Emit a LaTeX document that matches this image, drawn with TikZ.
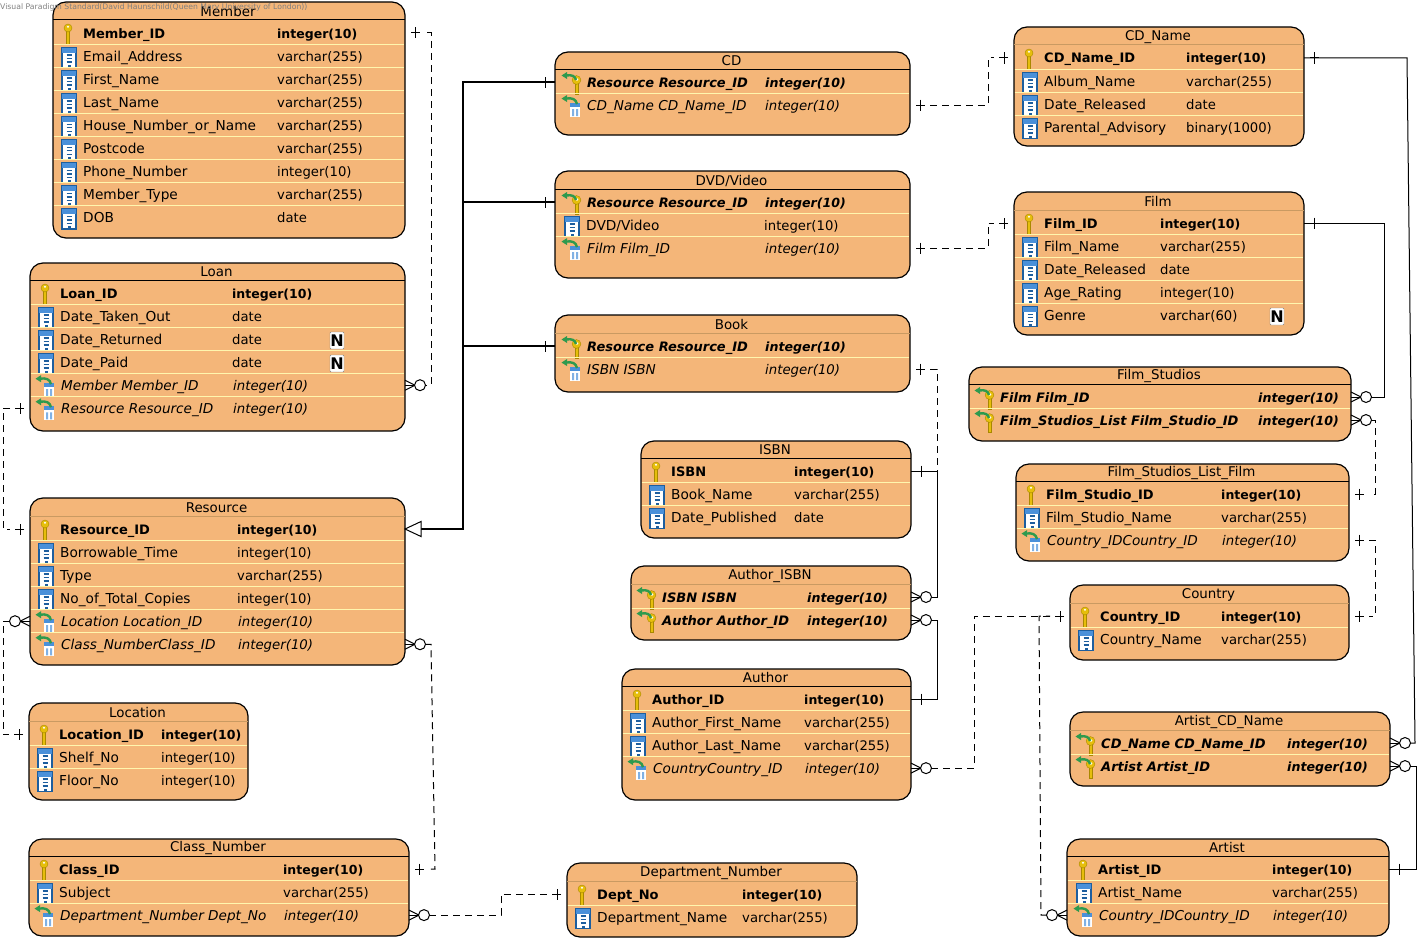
\documentclass[tikz,border=0pt]{standalone}
\usepackage{fontspec}
\setmainfont{DejaVu Sans}
\usetikzlibrary{calc}

\definecolor{tablefill}{HTML}{F4B679}
\definecolor{rowrule}{HTML}{FFF6AE}
\definecolor{tanrule}{HTML}{C99A62}
\definecolor{colblue}{HTML}{1D5E9E}
\definecolor{colband}{HTML}{4A90D9}
\definecolor{keygold}{HTML}{E6BE0C}
\definecolor{keyedge}{HTML}{A98800}
\definecolor{fkgreen}{HTML}{2E9A4E}

\tikzset{
	tablebox/.style={draw=black,fill=tablefill,line width=1.2pt,rounded corners=13pt,inner sep=0pt,outer sep=0pt},
	rowbox/.style={inner sep=0pt,outer sep=0pt,minimum height=23.05pt},
	rowline/.style={draw=rowrule,line width=1.2pt},
	hdrdark/.style={draw=black,line width=1pt},
	hdrtan/.style={draw=tanrule,line width=1pt},
	titletext/.style={inner sep=0pt,font=\fontsize{13.4}{15}\selectfont},
	rowk/.style={inner sep=0pt,font=\fontsize{13}{16}\selectfont\bfseries},
	rowc/.style={inner sep=0pt,font=\fontsize{13.7}{16}\selectfont},
	rowf/.style={inner sep=0pt,xshift=1pt,font=\fontsize{13.6}{16}\selectfont\itshape},
	rowp/.style={inner sep=0pt,xshift=1pt,font=\fontsize{13}{16}\selectfont\bfseries\itshape},
	typek/.style={inner sep=0pt,font=\fontsize{12.5}{16}\selectfont\bfseries},
	typec/.style={inner sep=0pt,font=\fontsize{13.2}{16}\selectfont},
	typef/.style={inner sep=0pt,xshift=1pt,font=\fontsize{13.3}{16}\selectfont\itshape},
	typep/.style={inner sep=0pt,xshift=1pt,font=\fontsize{12.6}{16}\selectfont\bfseries\itshape},
	nullmark/.style={draw=gray,fill=white,rounded corners=1pt,inner sep=0pt,minimum width=14pt,minimum height=17pt,font=\fontsize{16}{17}\selectfont\bfseries},
	stamp/.style={inner sep=0pt,text=gray,font=\fontsize{7.7}{9}\selectfont},
	relsolid/.style={draw=black,line width=1pt},
	relisa/.style={draw=black,line width=1.3pt},
	reldash/.style={draw=black,line width=1pt,dash pattern=on 7pt off 5pt},
	iconk/.pic={
		\fill[keygold,draw=keyedge,line width=0.4pt] (-16.5,-3) rectangle (-13.5,11);
		\fill[keygold,draw=keyedge,line width=0.4pt] (-15,-5) circle (4);
		\fill[white] (-15,-6.3) circle (1.1);
	},
	iconc/.pic={
		\fill[white,draw=colblue,line width=1.2pt] (-21,-8.5) rectangle (-7,11.5);
		\fill[colband] (-21,-8.5) rectangle (-7,-3.5);
		\foreach \dy in {-1,2.5,6} \draw[colblue,line width=1.4pt] (-16.5,\dy) -- (-11.5,\dy);
		\draw[colblue,line width=2pt] (-15,9.5) -- (-12,9.5);
	},
	iconf/.pic={
		\fill[white] (-16,-2) rectangle (-6,12);
		\fill[colband] (-16,-2) rectangle (-6,2);
		\fill[colband!70] (-14,4) rectangle (-12,11) (-10,4) rectangle (-8,11);
		\fill[fkgreen] (-24.5,-6.5) -- (-19,-10) -- (-19,-3) -- cycle;
		\draw[fkgreen,line width=2.4pt] (-20,-6.5) .. controls (-14,-7.5) and (-10,-6) .. (-9,-1);
	},
	iconp/.pic={
		\fill[keygold,draw=keyedge,line width=0.4pt] (-11,0) rectangle (-8,12);
		\fill[keygold,draw=keyedge,line width=0.4pt] (-9.5,-2) circle (4.4);
		\fill[white] (-9,-2.5) circle (1.4);
		\fill[fkgreen] (-24.5,-6.5) -- (-19,-10) -- (-19,-3) -- cycle;
		\draw[fkgreen,line width=2.4pt] (-20,-6.5) .. controls (-14,-7.5) and (-11,-6) .. (-10,-2);
	},
	onemark/.pic={
		\draw[line width=1pt] (10,-5.5) -- (10,5.5);
		\draw[line width=1pt] (6,0) -- (15,0);
	},
	manymark/.pic={
		\draw[line width=1pt] (0,-5) -- (10,0) -- (0,5);
		\draw[line width=1pt] (0,0) -- (10,0);
		\draw[line width=1pt,fill=white] (15,0) circle (5.5);
	},
	isamark/.pic={
		\draw[line width=1pt,fill=white] (0,0) -- (16,-7.5) -- (16,7.5) -- cycle;
	}
}

\newcommand{\ertable}[8]{
	\foreach \xa/\ya/\xb/\yb in {#2} {
		\pgfmathsetmacro\cx{(\xa+\xb)/2}
		\pgfmathsetmacro\cy{(\ya+\yb)/2}
		\pgfmathsetmacro\tabw{\xb-\xa}
		\pgfmathsetmacro\tabh{\yb-\ya}
		\pgfmathsetmacro\ty{#3-21.3}
		\pgfmathsetmacro\hy{#3-13}
		\node[tablebox,minimum width=\tabw pt,minimum height=\tabh pt] (#1) at (\cx,\cy) {};
		\node[titletext] (#1-title) at (\cx-1,\ty) {#6};
		\draw[#7] (\xa,\hy) -- (\xb,\hy);
		\foreach \kind/\fname/\dtype [count=\i] in {#8} {
			\pgfmathsetmacro\ry{#3+(\i-1)*23.05}
			\node[rowbox,minimum width=\tabw pt] (#1-\i) at (\cx,\ry) {};
			\ifnum\i>1\relax
				\draw[rowline] ([xshift=0.6pt]#1-\i.north west) -- ([xshift=-0.6pt]#1-\i.north east);
			\fi
			\pic at (#4,\ry) {icon\kind};
			\node[row\kind,anchor=base west] (#1-\i-name) at (#4,\ry+5) {\fname};
			\node[type\kind,anchor=base west] (#1-\i-type) at (#5,\ry+5) {\dtype};
		}
	}
}

\begin{document}
\begin{tikzpicture}[x=1pt,y=-1pt]

	\useasboundingbox (0,0) rectangle (1420,942);

	\ertable{member}{53/2/405/238}{33}{83}{277}{Member}{hdrdark}{
		k/Member\_ID/integer(10),c/Email\_Address/varchar(255),c/First\_Name/varchar(255),
		c/Last\_Name/varchar(255),c/House\_Number\_or\_Name/varchar(255),c/Postcode/varchar(255),
		c/Phone\_Number/integer(10),c/Member\_Type/varchar(255),c/DOB/date}

	\ertable{loan}{30/263/405/431}{293}{60}{232}{Loan}{hdrdark}{
		k/Loan\_ID/integer(10),c/Date\_Taken\_Out/date,c/Date\_Returned/date,c/Date\_Paid/date,
		f/Member Member\_ID/integer(10),f/Resource Resource\_ID/integer(10)}
	\node[nullmark] (loan-n3) at (337,340.5) {N};
	\node[nullmark] (loan-n4) at (337,363.5) {N};

	\ertable{resource}{30/498/405/665}{529}{60}{237}{Resource}{hdrtan}{
		k/Resource\_ID/integer(10),c/Borrowable\_Time/integer(10),c/Type/varchar(255),
		c/No\_of\_Total\_Copies/integer(10),f/Location Location\_ID/integer(10),f/Class\_NumberClass\_ID/integer(10)}

	\ertable{location}{29/703/248/800}{734}{59}{161}{Location}{hdrtan}{
		k/Location\_ID/integer(10),c/Shelf\_No/integer(10),c/Floor\_No/integer(10)}

	\ertable{classnum}{29/839/409/936}{869}{59}{283}{Class\_Number}{hdrdark}{
		k/Class\_ID/integer(10),c/Subject/varchar(255),f/Department\_Number Dept\_No/integer(10)}

	\ertable{cd}{555/52/910/135}{82}{586}{764}{CD}{hdrdark}{
		p/Resource Resource\_ID/integer(10),f/CD\_Name CD\_Name\_ID/integer(10)}

	\ertable{dvd}{555/171/910/278}{202}{586}{764}{DVD/Video}{hdrdark}{
		p/Resource Resource\_ID/integer(10),c/{DVD/Video}/integer(10),f/Film Film\_ID/integer(10)}

	\ertable{book}{555/315/910/392}{346}{586}{764}{Book}{hdrtan}{
		p/Resource Resource\_ID/integer(10),f/ISBN ISBN/integer(10)}

	\ertable{isbn}{641/441/911/538}{471}{671}{794}{ISBN}{hdrdark}{
		k/ISBN/integer(10),c/Book\_Name/varchar(255),c/Date\_Published/date}

	\ertable{authorisbn}{631/566/911/640}{597}{661}{806}{Author\_ISBN}{hdrtan}{
		p/ISBN ISBN/integer(10),p/Author Author\_ID/integer(10)}

	\ertable{author}{622/669/911/800}{699}{652}{804}{Author}{hdrdark}{
		k/Author\_ID/integer(10),c/Author\_First\_Name/varchar(255),c/Author\_Last\_Name/varchar(255),
		f/CountryCountry\_ID/integer(10)}

	\ertable{dept}{567/863/857/937}{894}{597}{742}{Department\_Number}{hdrtan}{
		k/Dept\_No/integer(10),c/Department\_Name/varchar(255)}

	\ertable{cdname}{1014/27/1304/146}{58}{1044}{1186}{CD\_Name}{hdrtan}{
		k/CD\_Name\_ID/integer(10),c/Album\_Name/varchar(255),c/Date\_Released/date,c/Parental\_Advisory/binary(1000)}

	\ertable{film}{1014/192/1304/335}{223}{1044}{1160}{Film}{hdrtan}{
		k/Film\_ID/integer(10),c/Film\_Name/varchar(255),c/Date\_Released/date,c/Age\_Rating/integer(10),c/Genre/varchar(60)}
	\node[nullmark] (film-n5) at (1277,316.5) {N};

	\ertable{studios}{969/367/1351/441}{397}{999}{1257}{Film\_Studios}{hdrdark}{
		p/Film Film\_ID/integer(10),p/Film\_Studios\_List Film\_Studio\_ID/integer(10)}

	\ertable{studiolist}{1016/464/1349/561}{494}{1046}{1221}{Film\_Studios\_List\_Film}{hdrdark}{
		k/Film\_Studio\_ID/integer(10),c/Film\_Studio\_Name/varchar(255),f/Country\_IDCountry\_ID/integer(10)}

	\ertable{country}{1070/585/1349/660}{616}{1100}{1221}{Country}{hdrtan}{
		k/Country\_ID/integer(10),c/Country\_Name/varchar(255)}

	\ertable{artistcd}{1070/712/1390/786}{743}{1100}{1286}{Artist\_CD\_Name}{hdrtan}{
		p/CD\_Name CD\_Name\_ID/integer(10),p/Artist Artist\_ID/integer(10)}

	\ertable{artist}{1067/839/1389/936}{869}{1098}{1272}{Artist}{hdrdark}{
		k/Artist\_ID/integer(10),c/Artist\_Name/varchar(255),f/Country\_IDCountry\_ID/integer(10)}

	\node[stamp,anchor=west] (stamp) at (0,7) {Visual Paradigm Standard(David Haunschild(Queen Mary University of London))};

	\draw[relisa] (resource-1.east) -- ++(58,0) |- (cd-1.west);
	\draw[relisa] (resource-1.east) -- ++(58,0) |- (dvd-1.west);
	\draw[relisa] (resource-1.east) -- ++(58,0) |- (book-1.west);
	\pic at (resource-1.east) {isamark};
	\pic[rotate=180] at (cd-1.west) {onemark};
	\pic[rotate=180] at (dvd-1.west) {onemark};
	\pic[rotate=180] at (book-1.west) {onemark};

	\draw[reldash,shorten <=22pt,shorten >=20pt] (member-1.east) -- ++(26,0) |- (loan-5.east);
	\pic at (member-1.east) {onemark};
	\pic at (loan-5.east) {manymark};

	\draw[reldash,shorten <=20pt,shorten >=20pt] (loan-6.west) -- ++(-27,0) |- (resource-1.west);
	\pic[rotate=180] at (loan-6.west) {onemark};
	\pic[rotate=180] at (resource-1.west) {onemark};

	\draw[reldash,shorten <=20pt,shorten >=20pt] (resource-5.west) -- ++(-27,0) |- (location-1.west);
	\pic[rotate=180] at (resource-5.west) {manymark};
	\pic[rotate=180] at (location-1.west) {onemark};

	\draw[reldash,shorten <=20pt,shorten >=20pt] (resource-6.east) -- ++(26,0) -- ($(classnum-1.east)+(26,0)$) -- (classnum-1.east);
	\pic at (resource-6.east) {manymark};
	\pic at (classnum-1.east) {onemark};

	\draw[reldash,shorten <=20pt,shorten >=20pt] (classnum-3.east) -- ++(92,0) |- (dept-1.west);
	\pic at (classnum-3.east) {manymark};
	\pic[rotate=180] at (dept-1.west) {onemark};

	\draw[reldash,shorten <=20pt,shorten >=20pt] (cd-2.east) -- ++(78,0) |- (cdname-1.west);
	\pic at (cd-2.east) {onemark};
	\pic[rotate=180] at (cdname-1.west) {onemark};

	\draw[reldash,shorten <=20pt,shorten >=20pt] (dvd-3.east) -- ++(78,0) |- (film-1.west);
	\pic at (dvd-3.east) {onemark};
	\pic[rotate=180] at (film-1.west) {onemark};

	\draw[reldash,shorten <=20pt] (book-2.east) -- ++(27,0) |- (isbn-1.east);
	\pic at (book-2.east) {onemark};
	\pic at (isbn-1.east) {onemark};

	\draw[relsolid,shorten >=20pt] (isbn-1.east) -- ++(26,0) |- (authorisbn-1.east);
	\pic at (authorisbn-1.east) {manymark};

	\draw[relsolid,shorten <=20pt] (authorisbn-2.east) -- ++(26,0) |- (author-1.east);
	\pic at (authorisbn-2.east) {manymark};
	\pic at (author-1.east) {onemark};

	\draw[reldash,shorten <=20pt,shorten >=20pt] (author-4.east) -- ++(63,0) |- (country-1.west);
	\pic at (author-4.east) {manymark};
	\pic[rotate=180] at (country-1.west) {onemark};

	\draw[reldash,shorten <=20pt,shorten >=20pt] (artist-3.west) -- ++(-26,0) -- ($(country-1.west)+(-31,0)$) -- (country-1.west);
	\pic[rotate=180] at (artist-3.west) {manymark};

	\draw[relsolid,shorten >=20pt] (film-1.east) -- ++(80,0) |- (studios-1.east);
	\pic at (film-1.east) {onemark};
	\pic at (studios-1.east) {manymark};

	\draw[reldash,shorten <=20pt,shorten >=20pt] (studios-2.east) -- ++(24,0) |- (studiolist-1.east);
	\pic at (studios-2.east) {manymark};
	\pic at (studiolist-1.east) {onemark};

	\draw[reldash,shorten <=20pt,shorten >=20pt] (studiolist-3.east) -- ++(26,0) |- (country-1.east);
	\pic at (studiolist-3.east) {onemark};
	\pic at (country-1.east) {onemark};

	\draw[relsolid,shorten >=20pt] (cdname-1.east) -- ++(103,0) -- ($(artistcd-1.east)+(25,0)$) -- (artistcd-1.east);
	\pic at (cdname-1.east) {onemark};
	\pic at (artistcd-1.east) {manymark};

	\draw[relsolid,shorten <=20pt] (artistcd-2.east) -- ++(26,0) |- (artist-1.east);
	\pic at (artistcd-2.east) {manymark};
	\pic at (artist-1.east) {onemark};

\end{tikzpicture}
\end{document}
